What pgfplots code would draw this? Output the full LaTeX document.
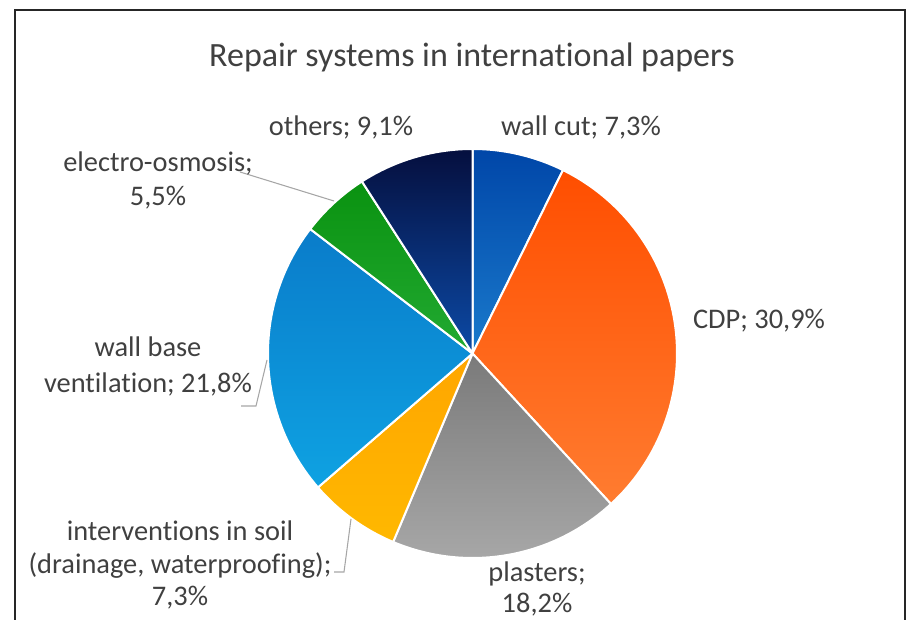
\documentclass[border=0pt]{standalone}
\usepackage{pgfplots}
\usepackage{pgfplotstable}
\pgfplotsset{compat=1.18}
\usepackage{fontspec}
\setmainfont{Carlito}[Ligatures={NoCommon}]

\definecolor{txt}{HTML}{404040}
\definecolor{lead}{HTML}{A6A6A6}
\definecolor{c0t}{HTML}{0046A8}\definecolor{c0b}{HTML}{1A7ACC}
\definecolor{c1t}{HTML}{FF4E00}\definecolor{c1b}{HTML}{FF7C30}
\definecolor{c2t}{HTML}{7A7A7A}\definecolor{c2b}{HTML}{AAAAAA}
\definecolor{c3t}{HTML}{FFA600}\definecolor{c3b}{HTML}{FFB800}
\definecolor{c4t}{HTML}{0A7CCA}\definecolor{c4b}{HTML}{0EA2E2}
\definecolor{c5t}{HTML}{0A9210}\definecolor{c5b}{HTML}{22AA32}
\definecolor{c6t}{HTML}{050F3E}\definecolor{c6b}{HTML}{0C4AA6}

\pgfplotstableread[col sep=comma]{
label,value
wall cut,7.3
CDP,30.9
plasters,18.2
interventions in soil,7.3
wall base ventilation,21.8
electro-osmosis,5.5
others,9.1
}\piedata

\xdef\total{0}
\pgfplotstableforeachcolumnelement{value}\of\piedata\as\v{%
  \pgfmathsetmacro\tmp{\total+\v}\xdef\total{\tmp}}

\newcommand\lbl{\fontsize{21.3}{25}\selectfont}

\begin{document}
\begin{tikzpicture}
\begin{axis}[
  width=688.5pt, height=465pt, scale only axis,
  xmin=0, xmax=918, ymin=0, ymax=620,
  enlargelimits=false, hide axis, clip=false]
\xdef\acc{0}
\foreach \i in {0,...,6}{
  \pgfplotstablegetelem{\i}{value}\of\piedata
  \pgfmathsetmacro\newacc{\acc+\pgfplotsretval}
  \pgfmathsetmacro\fra{\acc/\total}
  \pgfmathsetmacro\frb{\newacc/\total}
  \pgfmathsetmacro\sa{90-360*\fra}
  \pgfmathsetmacro\ea{90-360*\frb}
  \pgfmathsetmacro\xs{472.5+204.5*cos(\sa)}
  \pgfmathsetmacro\ys{266.5+204.5*sin(\sa)}
  \xdef\acc{\newacc}
  \edef\cmd{\noexpand\path[top color=c\i t,bottom color=c\i b,draw=white,line width=1.5pt,line join=round]
    (axis cs:472.5,266.5) -- (axis cs:\xs,\ys) arc[start angle=\sa,end angle=\ea,radius=153.375pt] -- cycle;}
  \cmd
}
% frame
\draw[line width=1.5pt, black!85] (axis cs:15,0) -- (axis cs:15,610) -- (axis cs:905,610) -- (axis cs:905,0);
% title
\node[txt, font=\fontsize{25.5}{30}\selectfont] at (axis cs:472,563) {Repair systems in international papers};
% leader lines
\draw[lead, line width=0.8pt] (axis cs:240,448) -- (axis cs:334,419);
\draw[lead, line width=0.8pt] (axis cs:241,214) -- (axis cs:256,214) -- (axis cs:267,260);
\draw[lead, line width=0.8pt] (axis cs:334,48) -- (axis cs:344,48) -- (axis cs:351,101);
% labels
\node[txt, font=\lbl] at (axis cs:341,493) {others; 9,1\%};
\node[txt, font=\lbl] at (axis cs:581,493) {wall cut; 7,3\%};
\node[txt, font=\lbl] at (axis cs:759,299) {CDP; 30,9\%};
\node[txt, font=\fontsize{21.3}{25.5}\selectfont, align=center] at (axis cs:158,440) {electro-osmosis;\\5,5\%};
\node[txt, font=\fontsize{21.3}{27}\selectfont, align=center] at (axis cs:148,254) {wall base\\ventilation; 21,8\%};
\node[txt, font=\fontsize{21.3}{24.5}\selectfont, align=center] at (axis cs:180,55) {interventions in soil\\(drainage, waterproofing);\\7,3\%};
\node[txt, font=\fontsize{21.3}{23}\selectfont, align=center] at (axis cs:537,31) {plasters;\\18,2\%};
\end{axis}
\pgfresetboundingbox
\path[use as bounding box] (current axis.south west) rectangle (current axis.north east);
\end{tikzpicture}
\end{document}
